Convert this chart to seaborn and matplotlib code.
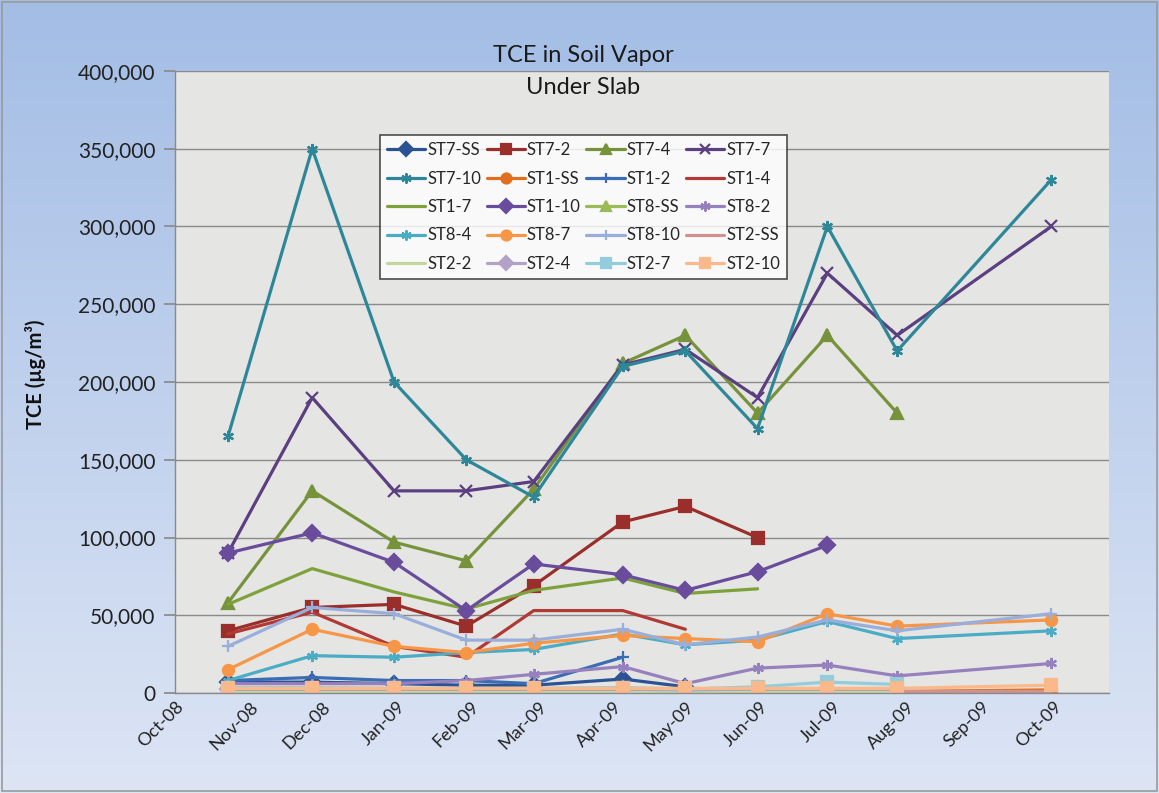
import numpy as np
import pandas as pd
import matplotlib
matplotlib.use("Agg")
import matplotlib.pyplot as plt
import matplotlib.dates as mdates
from matplotlib.ticker import FuncFormatter
import seaborn as sns

# ---------------- data ----------------
dates = pd.to_datetime(["2008-10-23", "2008-11-27", "2008-12-31", "2009-01-30",
                        "2009-02-27", "2009-04-05", "2009-05-01", "2009-05-31",
                        "2009-06-29", "2009-07-28", "2009-09-30"])
nan = np.nan

st7_ss = [7000, 7000, 6000, 5000, 5000, 9000, 4000, nan, nan, nan, nan]
st7_2 = [40000, 55000, 57000, 43000, 69000, 110000, 120000, 100000, nan, nan, nan]
st7_4 = [58000, 130000, 97000, 85000, 131000, 212000, 230000, 180000, 230000, 180000, nan]
st7_7 = [90000, 190000, 130000, 130000, 136000, 211000, 221000, 190000, 270000, 230000, 300000]
st7_10 = [165000, 350000, 200000, 150000, 126000, 210000, 220000, 170000, 300000, 220000, 330000]
st1_ss = [1000, 1000, 1000, 1000, 1000, 1000, 1000, 1000, 1000, 1000, 2000]
st1_2 = [8000, 10000, 8000, 8000, 6000, 23000, nan, nan, nan, nan, nan]
st1_4 = [38000, 52000, 30000, 23000, 53000, 53000, 41000, nan, nan, nan, nan]
st1_7 = [57000, 80000, 65000, 54000, 66000, 74000, 64000, 67000, nan, nan, nan]
st1_10 = [90000, 103000, 84000, 53000, 83000, 76000, 66000, 78000, 95000, nan, nan]
st8_ss = [200, 200, 200, 200, 200, 200, 200, 200, 200, 200, nan]
st8_2 = [6000, 6000, 6000, 8000, 12000, 17000, 6000, 16000, 18000, 11000, 19000]
st8_4 = [8000, 24000, 23000, 26000, 28000, 38000, 31000, 34000, 46000, 35000, 40000]
st8_7 = [15000, 41000, 30000, 26000, 32000, 37000, 35000, 33000, 51000, 43000, 47000]
st8_10 = [30000, 55000, 51000, 34000, 34000, 41000, 31000, 36000, 47000, 40000, 51000]
st2_ss = [1500, 1500, 1500, 1500, 1500, 1500, 1500, 1500, 1500, 1500, 1500]
st2_2 = [500, 500, 500, 500, 500, 500, 500, 500, 500, 500, nan]
st2_4 = [2500, 2500, 2500, 2500, 2500, 2500, 2000, 2500, 2500, 2500, nan]
st2_7 = [3500, 3500, 3000, 3000, 3000, 3500, 2500, 4000, 7000, 5500, nan]
st2_10 = [3000, 3000, 3000, 3000, 3000, 3000, 3000, 3000, 3000, 3000, 5000]

series_names = ["ST7-SS", "ST7-2", "ST7-4", "ST7-7", "ST7-10",
                "ST1-SS", "ST1-2", "ST1-4", "ST1-7", "ST1-10",
                "ST8-SS", "ST8-2", "ST8-4", "ST8-7", "ST8-10",
                "ST2-SS", "ST2-2", "ST2-4", "ST2-7", "ST2-10"]
series_values = [st7_ss, st7_2, st7_4, st7_7, st7_10,
                 st1_ss, st1_2, st1_4, st1_7, st1_10,
                 st8_ss, st8_2, st8_4, st8_7, st8_10,
                 st2_ss, st2_2, st2_4, st2_7, st2_10]
y_ticks = [0, 50000, 100000, 150000, 200000, 250000, 300000, 350000, 400000]
month_ticks = pd.date_range("2008-10-01", "2009-10-01", freq="MS")

# ---------------- styles ----------------
asterisk = (6, 2, 0)
styles = {
    "ST7-SS": ("#2B5393", "D"),
    "ST7-2": ("#9A2E2B", "s"),
    "ST7-4": ("#76933C", "^"),
    "ST7-7": ("#5B3F80", "x"),
    "ST7-10": ("#2E8799", asterisk),
    "ST1-SS": ("#E0701F", "o"),
    "ST1-2": ("#3A6DB3", "+"),
    "ST1-4": ("#B13A36", None),
    "ST1-7": ("#7DA23B", None),
    "ST1-10": ("#6A4C9C", "D"),
    "ST8-SS": ("#9BBB59", "^"),
    "ST8-2": ("#9680BD", asterisk),
    "ST8-4": ("#4BACC6", asterisk),
    "ST8-7": ("#F79646", "o"),
    "ST8-10": ("#9AAEDB", "+"),
    "ST2-SS": ("#D0918F", None),
    "ST2-2": ("#C3D69B", None),
    "ST2-4": ("#B3A2C7", "D"),
    "ST2-7": ("#93CDDD", "s"),
    "ST2-10": ("#FAB98A", "s"),
}

sns.set_theme(style="white")
plt.rcParams["font.family"] = ["Lato", "DejaVu Sans"]

W, H = 1159, 793
fig = plt.figure(figsize=(W / 100, H / 100), dpi=100)

# gradient background
bg = fig.add_axes([0, 0, 1, 1], zorder=-10)
top = np.array([163, 189, 229]) / 255
bot = np.array([221, 229, 245]) / 255
t = np.linspace(0, 1, 256)[:, None]
grad = top[None, :] * (1 - t) + bot[None, :] * t
img = np.repeat(grad[:, None, :], 8, axis=1)
bg.imshow(img, aspect="auto", extent=[0, 1, 0, 1])
bg.set_axis_off()
fig.patches.append(plt.Rectangle((0.002, 0.002), 0.996, 0.996, transform=fig.transFigure,
                                 fill=False, edgecolor="#9A9A9A", lw=1.2, zorder=5))

ax = fig.add_axes([175 / W, 1 - 693 / H, (1109 - 175) / W, (693 - 71) / H])
ax.set_facecolor("#E5E5E3")

for name, vals in zip(series_names, series_values):
    color, mk = styles[name]
    df = pd.DataFrame({"date": dates, "value": vals}).dropna()
    kw = dict(marker=mk if mk is not None else "", markersize=8,
              markeredgecolor=color, markerfacecolor=color, markeredgewidth=1.6)
    sns.lineplot(data=df, x="date", y="value", ax=ax, color=color, lw=2.3,
                 label=name, **kw)

ax.set_xlim(pd.Timestamp("2008-10-01"), pd.Timestamp("2009-10-24"))
ax.set_ylim(0, 400000)
ax.set_yticks(y_ticks)
ax.yaxis.set_major_formatter(FuncFormatter(lambda v, p: f"{int(v):,}"))
ax.set_xticks(month_ticks)
ax.xaxis.set_major_formatter(mdates.DateFormatter("%b-%y"))
ax.grid(axis="y", color="#8A8A8A", lw=1.0)
ax.grid(axis="x", visible=False)
for s in ["top", "right"]:
    ax.spines[s].set_visible(False)
for s in ["left", "bottom"]:
    ax.spines[s].set_color("#8A8A8A")
    ax.spines[s].set_linewidth(1.0)
ax.tick_params(axis="y", length=8, color="#8A8A8A", labelsize=15, labelcolor="#222222", pad=6, left=True)
ax.tick_params(axis="x", length=0, labelsize=13, labelcolor="#222222", pad=4)
for lab in ax.get_xticklabels():
    lab.set_rotation(45)
    lab.set_ha("right")
    lab.set_rotation_mode("anchor")
ax.set_xlabel("")
ax.set_ylabel("")

fig.text(35 / W, 1 - 374 / H, "TCE (µg/m³)", rotation=90, ha="center", va="center",
         fontsize=14.5, fontweight="bold", color="#111111")
fig.text(583 / W, 1 - 55 / H, "TCE in Soil Vapor", ha="center", va="center",
         fontsize=17, color="#1A1A1A")
fig.text(583 / W, 1 - 88 / H, "Under Slab", ha="center", va="center",
         fontsize=17, color="#1A1A1A")

# legend: Excel fills rows first, matplotlib fills columns first
handles, labels = ax.get_legend_handles_labels()
ncol, nrow = 4, 5
order = [r * ncol + c for c in range(ncol) for r in range(nrow)]
leg = ax.legend([handles[i] for i in order], [labels[i] for i in order],
                ncol=ncol, loc="upper left", bbox_to_anchor=((380 - 175) / 934, (693 - 135) / 622),
                borderaxespad=0, frameon=True, fancybox=False, fontsize=12,
                handlelength=2.3, handletextpad=0.1, columnspacing=0.35,
                labelspacing=0.75, borderpad=0.42, markerscale=0.9)
leg.get_frame().set_edgecolor("#222222")
leg.get_frame().set_facecolor("white")
leg.get_frame().set_linewidth(1.2)

fig.savefig("out.png", dpi=100)
